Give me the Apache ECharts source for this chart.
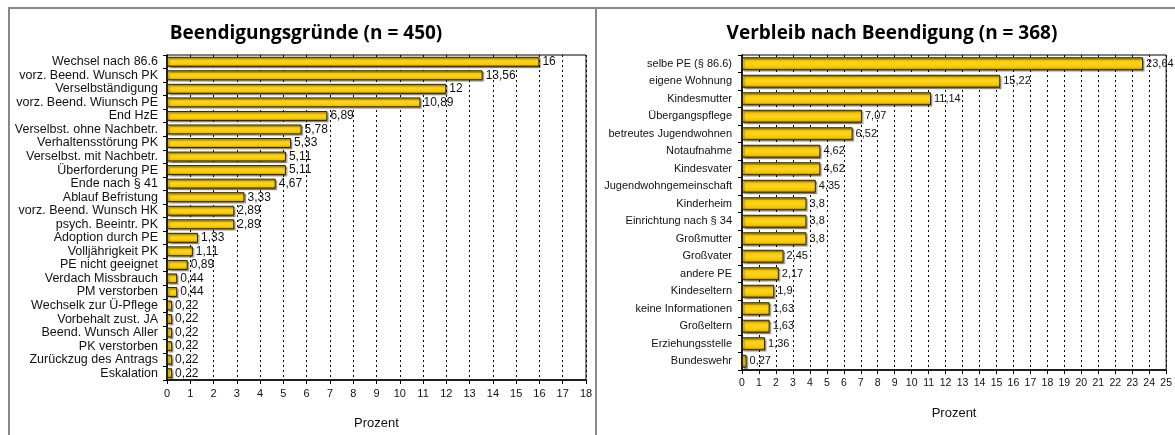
<!DOCTYPE html>
<html>
<head>
<meta charset="utf-8">
<script src="https://cdn.jsdelivr.net/npm/echarts@6/dist/echarts.min.js"></script>
<style>
  html, body { margin: 0; padding: 0; background: #fff; }
  #main { width: 1175px; height: 435px; }
</style>
</head>
<body>
<div id="main"></div>
<script>
// Linkes Diagramm: Beendigungsgründe
let gruendeKategorien = ['Wechsel nach 86.6', 'vorz. Beend. Wunsch PK', 'Verselbständigung', 'vorz. Beend. Wiunsch PE',
    'End HzE', 'Verselbst. ohne Nachbetr.', 'Verhaltensstörung PK', 'Verselbst. mit Nachbetr.', 'Überforderung PE',
    'Ende nach § 41', 'Ablauf Befristung', 'vorz. Beend. Wunsch HK', 'psych. Beeintr. PK', 'Adoption durch PE',
    'Volljährigkeit PK', 'PE nicht geeignet', 'Verdach Missbrauch', 'PM verstorben', 'Wechselk zur Ü-Pflege',
    'Vorbehalt zust. JA', 'Beend. Wunsch Aller', 'PK verstorben', 'Zurückzug des Antrags', 'Eskalation'];
let gruendeWerte = [16, 13.56, 12, 10.89, 6.89, 5.78, 5.33, 5.11, 5.11, 4.67, 3.33, 2.89, 2.89, 1.33,
    1.11, 0.89, 0.44, 0.44, 0.22, 0.22, 0.22, 0.22, 0.22, 0.22];

// Rechtes Diagramm: Verbleib nach Beendigung
let verbleibKategorien = ['selbe PE (§ 86.6)', 'eigene Wohnung', 'Kindesmutter', 'Übergangspflege',
    'betreutes Jugendwohnen', 'Notaufnahme', 'Kindesvater', 'Jugendwohngemeinschaft', 'Kinderheim',
    'Einrichtung nach § 34', 'Großmutter', 'Großvater', 'andere PE', 'Kindeseltern', 'keine Informationen',
    'Großeltern', 'Erziehungsstelle', 'Bundeswehr'];
let verbleibWerte = [23.64, 15.22, 11.14, 7.07, 6.52, 4.62, 4.62, 4.35, 3.8, 3.8, 3.8, 2.45, 2.17, 1.9,
    1.63, 1.63, 1.36, 0.27];

let myChart = echarts.init(document.getElementById('main'));

const barFarbe = new echarts.graphic.LinearGradient(0, 0, 0, 1, [
    {offset: 0, color: '#9a7a00'},
    {offset: 0.2, color: '#f5c600'},
    {offset: 0.5, color: '#ffd41f'},
    {offset: 0.8, color: '#f2c400'},
    {offset: 1, color: '#8a6c00'}
]);

// Dezimalkomma statt Punkt
function komma(v) {
    return String(v).replace('.', ',');
}

function xAchse(gridIndex, max, fontSize) {
    return {
        type: 'value', gridIndex: gridIndex, min: 0, max: max, interval: 1,
        name: 'Prozent', nameLocation: 'middle', nameGap: 37,
        nameTextStyle: {fontFamily: 'Liberation Sans', fontSize: 13, color: '#111'},
        axisLine: {show: true, lineStyle: {color: '#000', width: 1.5}},
        axisTick: {show: true, length: 4, lineStyle: {color: '#000'}},
        axisLabel: {fontFamily: 'Liberation Sans', fontSize: fontSize, color: '#111', margin: 8},
        splitLine: {show: true, lineStyle: {color: '#000', type: [2, 3], width: 1}}
    };
}

function yAchse(gridIndex, kategorien, fontSize, abstand) {
    return {
        type: 'category', gridIndex: gridIndex, data: kategorien, inverse: true,
        axisLine: {show: true, lineStyle: {color: '#000', width: 1.5}},
        axisTick: {show: true, length: 4, lineStyle: {color: '#000'}},
        axisLabel: {interval: 0, fontFamily: 'Liberation Sans', fontSize: fontSize, color: '#111', margin: abstand},
        splitLine: {show: false}
    };
}

function balken(index, werte, breite, fontSize) {
    return {
        type: 'bar', xAxisIndex: index, yAxisIndex: index, data: werte,
        barWidth: breite,
        itemStyle: {
            color: barFarbe, borderColor: '#2e2400', borderWidth: 1,
            shadowColor: 'rgba(0,0,0,0.35)', shadowOffsetX: 1.5, shadowOffsetY: 1.5, shadowBlur: 1
        },
        label: {
            show: true, position: 'right', distance: 3,
            fontFamily: 'Liberation Sans', fontSize: fontSize, color: '#111',
            formatter: p => komma(p.value)
        },
        animation: false
    };
}

let option = {
    animation: false,
    title: [
        {text: 'Beendigungsgründe (n = 450)', left: 301, top: 19, textAlign: 'center',
            textStyle: {fontFamily: 'Open Sans', fontWeight: 'bold', fontSize: 19, color: '#000'}},
        {text: 'Verbleib nach Beendigung (n = 368)', left: 887, top: 19, textAlign: 'center',
            textStyle: {fontFamily: 'Open Sans', fontWeight: 'bold', fontSize: 19, color: '#000'}}
    ],
    graphic: [
        {type: 'rect', shape: {x: 9, y: 8, width: 587, height: 440},
            style: {fill: 'none', stroke: '#888', lineWidth: 2}, silent: true},
        {type: 'rect', shape: {x: 596, y: 8, width: 600, height: 440},
            style: {fill: 'none', stroke: '#888', lineWidth: 2}, silent: true}
    ],
    grid: [
        {left: 167, top: 55, width: 419, height: 326, show: true, borderColor: '#000', borderWidth: 1},
        {left: 742, top: 55, width: 430, height: 315, show: true, borderColor: '#000', borderWidth: 1}
    ],
    xAxis: [xAchse(0, 18, 11), xAchse(1, 25, 10.5)],
    yAxis: [yAchse(0, gruendeKategorien, 12.5, 9), yAchse(1, verbleibKategorien, 11, 10)],
    series: [balken(0, gruendeWerte, 10, 12), balken(1, verbleibWerte, 13, 11)]
};
myChart.setOption(option);
</script>
</body>
</html>
